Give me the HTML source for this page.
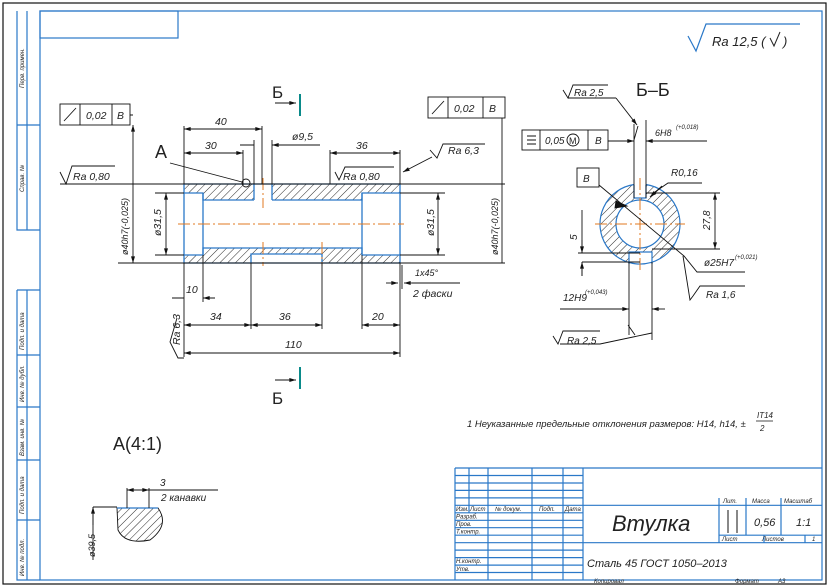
<!DOCTYPE html>
<html><head><meta charset="utf-8"><style>
html,body{margin:0;padding:0;background:#fff}
svg{display:block}
text{font-family:"Liberation Sans","DejaVu Sans",sans-serif;font-style:italic;fill:#222}
</style></head><body>
<svg width="830" height="588" viewBox="0 0 830 588" xmlns="http://www.w3.org/2000/svg">
<defs>
<pattern id="h" patternUnits="userSpaceOnUse" width="5.5" height="5.5" patternTransform="rotate(45)">
<line x1="0" y1="0" x2="0" y2="5.5" stroke="#111" stroke-width="0.9"/></pattern>
<marker id="a" viewBox="0 0 10 6" refX="10" refY="3" markerWidth="7" markerHeight="4" orient="auto-start-reverse" markerUnits="userSpaceOnUse"><path d="M0,0 L10,3 L0,6z" fill="#111"/></marker>
</defs>
<rect x="3" y="3" width="823" height="581" fill="none" stroke="#111" stroke-width="1.2"/>
<g stroke="#2a78c8" stroke-width="1.2" fill="none">
<rect x="40" y="11" width="782" height="569"/>
<rect x="40" y="11" width="138" height="27"/>
<path d="M17 11V230H40M27 11V230M17 125H40M17 290V580H40M27 290V580M17 290H40M17 355H40M17 407H40M17 460H40M17 520H40"/>
</g>
<g font-size="6" fill="#333">
<text transform="translate(24,88) rotate(-90)">Перв. примен.</text>
<text transform="translate(24,192) rotate(-90)">Справ. №</text>
<text transform="translate(24,350) rotate(-90)">Подп. и дата</text>
<text transform="translate(24,402) rotate(-90)">Инв. № дубл.</text>
<text transform="translate(24,456) rotate(-90)">Взам. инв. №</text>
<text transform="translate(24,514) rotate(-90)">Подп. и дата</text>
<text transform="translate(24,576) rotate(-90)">Инв. № подл.</text>
</g>
<path d="M688 36L696 51L706 24H800" stroke="#2a78c8" fill="none" stroke-width="1.2"/>
<text x="712" y="46" font-size="13">Ra 12,5 (</text><path d="M770 38l4 8l6-14" stroke="#222" fill="none"/><text x="783" y="46" font-size="13">)</text>

<g fill="url(#h)">
<rect x="184" y="184" width="70" height="9"/><rect x="272" y="184" width="128" height="9"/>
<rect x="203" y="193" width="51" height="7"/><rect x="272" y="193" width="90" height="7"/>
<rect x="184" y="255" width="19" height="8"/><rect x="203" y="248" width="48" height="15"/>
<rect x="251" y="248" width="71" height="6"/><rect x="322" y="248" width="40" height="15"/><rect x="362" y="255" width="38" height="8"/>
</g>
<g stroke="#2a78c8" stroke-width="1.3" fill="none">
<path d="M184 184H400V263H184Z"/>
<path d="M184 193H203V200H254M272 200H362V193H400"/>
<path d="M254 184V200M272 184V200M203 193V255M362 193V255"/>
<path d="M184 255H203V248H362V255H400"/>
<path d="M251 263V254H322V263"/>
</g>
<g stroke="#e07820" stroke-width="1" stroke-dasharray="12,3,2,3">
<path d="M178 224H404M263 178V208M263 242V266M322 242V266"/>
</g>
<g stroke="#111" stroke-width="0.9" fill="none">
<path d="M60 184H505M118 263H505"/>
<path d="M133 125V184M133 184V263" marker-start="url(#a)" marker-end="url(#a)"/>
<path d="M502 118V263"/>
<path d="M166 193V255" marker-start="url(#a)" marker-end="url(#a)"/>
<path d="M438 193V255" marker-start="url(#a)" marker-end="url(#a)"/>
<path d="M155 193H184M155 255H184M400 193H445M400 255H445"/>
<path d="M184 126V184M262 126V184M243 150V184M254 140V184M272 140V184M330 150V184M400 150V184"/>
<path d="M184 129H262" marker-start="url(#a)" marker-end="url(#a)"/>
<path d="M184 153H243" marker-start="url(#a)" marker-end="url(#a)"/>
<path d="M240 145H254M320 145H272" marker-end="url(#a)"/>
<path d="M330 153H400" marker-start="url(#a)" marker-end="url(#a)"/>
<path d="M170 163L242 182"/><circle cx="246" cy="183" r="4"/>
<path d="M335 172L339 180L345 167H394"/>
<path d="M430 150L437 158L443 144H485"/>
<path d="M432 157L403 172" marker-end="url(#a)"/>
<path d="M184 263V357M203 255V302M251 263V329M322 263V329M362 255V329M400 263V357"/>
<path d="M172 298H184M215 298H203" marker-end="url(#a)"/>
<path d="M184 325H251" marker-start="url(#a)" marker-end="url(#a)"/>
<path d="M251 325H322" marker-start="url(#a)" marker-end="url(#a)"/>
<path d="M362 325H400" marker-start="url(#a)" marker-end="url(#a)"/>
<path d="M184 353H400" marker-start="url(#a)" marker-end="url(#a)"/>
<path d="M412 283H460M402 265V289"/>
<path d="M386 283H398" marker-end="url(#a)"/><path d="M412 283H404" marker-end="url(#a)"/>
<path d="M177 318L170 342L178 358H184"/>
<path d="M60 172L66 184L72 166H115"/>
<rect x="60" y="104" width="70" height="21"/><path d="M80 104V125M112 104V125M130 115H133"/><path d="M64 121L76 108"/>
<rect x="428" y="97" width="77" height="21"/><path d="M448 97V118M483 97V118"/><path d="M432 114L444 101"/>
<path d="M275 103H296" marker-end="url(#a)"/><path d="M275 380H296" marker-end="url(#a)"/>
</g>
<path d="M300 94V116M300 367V389" stroke="#0a8a8a" stroke-width="2"/>
<g font-size="10.5">
<text x="86" y="119">0,02</text><text x="117" y="119">B</text>
<text x="454" y="112">0,02</text><text x="489" y="112">B</text>
<text x="73" y="180">Ra 0,80</text>
<text x="215" y="125">40</text><text x="205" y="149">30</text><text x="292" y="140">ø9,5</text>
<text x="356" y="149">36</text><text x="343" y="180">Ra 0,80</text><text x="448" y="154">Ra 6,3</text>
<text x="186" y="293">10</text><text x="210" y="320">34</text><text x="279" y="320">36</text><text x="372" y="320">20</text><text x="285" y="348">110</text>
<text x="415" y="276" font-size="9">1x45°</text><text x="413" y="297">2 фаски</text>
<text transform="translate(180,345) rotate(-90)">Ra 6,3</text>
<text transform="translate(128,255) rotate(-90)" font-size="9">ø40h7(-0,025)</text>
<text transform="translate(498,255) rotate(-90)" font-size="9">ø40h7(-0,025)</text>
<text transform="translate(161,236) rotate(-90)">ø31,5</text>
<text transform="translate(434,236) rotate(-90)">ø31,5</text>
</g>
<g font-size="18">
<text x="155" y="158" style="font-style:normal">A</text>
<text x="272" y="98" font-size="17" style="font-style:normal">Б</text><text x="272" y="404" font-size="17" style="font-style:normal">Б</text>
<text x="636" y="96" font-size="18" style="font-style:normal">Б–Б</text>
<text x="113" y="450" font-size="18" style="font-style:normal">A(4:1)</text></g>

<!-- section Б-Б -->
<path d="M600 224a40 40 0 1 0 80 0a40 40 0 1 0 -80 0Z M616 224a24 24 0 1 0 48 0a24 24 0 1 0 -48 0Z" fill="url(#h)" fill-rule="evenodd"/>
<rect x="634" y="182" width="12" height="16" fill="#fff"/><rect x="629" y="252" width="23" height="14" fill="#fff"/>
<g stroke="#2a78c8" stroke-width="1.2" fill="none">
<path d="M634 184.5A40 40 0 1 0 646 184.5"/>
<circle cx="640" cy="224" r="24"/>
<path d="M634 185V198H646V185M629 264V252H652V264"/>
</g>
<g stroke="#e07820" stroke-width="1" stroke-dasharray="12,3,2,3"><path d="M595 224H685M640 178V270"/></g>
<g stroke="#111" stroke-width="0.9" fill="none">
<path d="M563 90L568 98L573 85H608M568 98H616"/><path d="M616 98L637 125" marker-end="url(#a)"/>
<rect x="522" y="130" width="86" height="20"/><path d="M540 130V150M588 130V150"/><path d="M527 136h9M527 140h9M527 144h9"/>
<circle cx="573" cy="140" r="6"/>
<path d="M608 141H623M655 141H707"/><path d="M614 141H634" marker-end="url(#a)"/><path d="M665 141H646" marker-end="url(#a)"/>
<path d="M634 124V198M646 120V198M638 126L634 140"/>
<rect x="577" y="168" width="22" height="19"/>
<path d="M599 185L684 256L697 272H745"/>
<path d="M616 201L627 206L615 208z" fill="#111"/>
<path d="M652 194L668 183H702"/><path d="M662 186L650 197" marker-end="url(#a)"/>
<path d="M646 193H720M652 249H720"/><path d="M715 193V249" marker-start="url(#a)" marker-end="url(#a)"/>
<path d="M578 253H640M582 262H640"/><path d="M582 210V253M582 262V276"/><path d="M582 240V253" marker-end="url(#a)"/><path d="M582 276V262" marker-end="url(#a)"/>
<path d="M629 262V335M652 262V340"/>
<path d="M560 309H622M660 309H652"/><path d="M615 309H629" marker-end="url(#a)"/><path d="M665 309H652" marker-end="url(#a)"/>
<path d="M683 256L690 300L693 296L700 286H745"/>
<path d="M553 336L558 344L563 331H600M560 344H600L652 333"/><path d="M628 325L635 335"/>
</g>
<g font-size="10">
<text x="574" y="96">Ra 2,5</text><text x="545" y="144">0,05</text><text x="569" y="144" font-size="9" style="font-style:normal">M</text><text x="595" y="144">B</text>
<text x="655" y="136" font-size="9">6H8</text><text x="676" y="129" font-size="6">(+0,018)</text>
<text x="583" y="182">B</text><text x="671" y="176">R0,16</text>
<text transform="translate(710,230) rotate(-90)">27,8</text><text transform="translate(577,240) rotate(-90)">5</text>
<text x="704" y="266">ø25H7</text><text x="735" y="259" font-size="6">(+0,021)</text>
<text x="563" y="301">12H9</text><text x="585" y="294" font-size="6">(+0,043)</text>
<text x="706" y="298">Ra 1,6</text><text x="567" y="344">Ra 2,5</text>
</g>
<text x="467" y="427" font-size="9.5">1 Неуказанные предельные отклонения размеров: H14, h14, ±</text>
<text x="757" y="418" font-size="8">IT14</text><path d="M756 421H773" stroke="#111" stroke-width="0.7"/><text x="760" y="431" font-size="8">2</text>

<!-- detail A -->
<path d="M117 508H158Q170 525 150 540Q125 545 118 530Z" fill="url(#h)" stroke="#111" stroke-width="0.9"/>
<path d="M117 508H158" stroke="#2a78c8" stroke-width="1.2"/>
<g stroke="#111" stroke-width="0.9" fill="none">
<path d="M127 488V508M149 488V508M127 490H218"/><path d="M127 490H138" marker-start="url(#a)"/><path d="M149 490H139" marker-start="url(#a)"/>
<path d="M93 507H117M93 507V560"/><path d="M93 525V507" marker-end="url(#a)"/>
</g>
<text x="160" y="486" font-size="10">3</text><text x="161" y="501" font-size="10">2 канавки</text>
<text transform="translate(95,557) rotate(-90)" font-size="9">ø39,5</text>

<!-- title block -->
<g stroke="#2a78c8" stroke-width="1.2" fill="none">
<path d="M455 468H822M455 468V580"/>
<path d="M455 475.5H583M455 483H583M455 490.4H583M455 497.9H583M455 505.3H822M455 512.8H583M455 520.3H583M455 527.7H583M455 535.2H583M455 542.7H822M455 550.1H583M455 557.6H583M455 565.1H583M455 572.5H583"/>
<path d="M469 468V512.8M488 468V580M532 468V580M563 468V580M583 468V580"/>
<path d="M719 498V542.7M746 498V535.2M781 498V535.2M719 535.2H822M764 535.2V542.7M805 535.2V542.7"/>
</g>
<path d="M728 510V533M737 510V533" stroke="#111" stroke-width="1"/>
<g font-size="6" fill="#333">
<text x="456" y="511">Изм.</text><text x="470" y="511">Лист</text><text x="495" y="511">№ докум.</text><text x="539" y="511">Подп.</text><text x="565" y="511">Дата</text>
<text x="456" y="518.5">Разраб.</text><text x="456" y="526">Пров.</text><text x="456" y="533.5">Т.контр.</text>
<text x="456" y="563">Н.контр.</text><text x="456" y="571">Утв.</text>
<text x="723" y="503">Лит.</text><text x="752" y="503">Масса</text><text x="784" y="503">Масштаб</text>
<text x="722" y="541">Лист</text><text x="762" y="541">Листов</text><text x="812" y="541">1</text>
<text x="594" y="583">Копировал</text><text x="735" y="583">Формат</text><text x="778" y="583">А3</text>
</g>
<text x="612" y="531" font-size="22">Втулка</text>
<text x="587" y="567" font-size="11">Сталь 45  ГОСТ 1050–2013</text>
<text x="754" y="526" font-size="11">0,56</text><text x="796" y="526" font-size="11">1:1</text>
</svg>
</body></html>
